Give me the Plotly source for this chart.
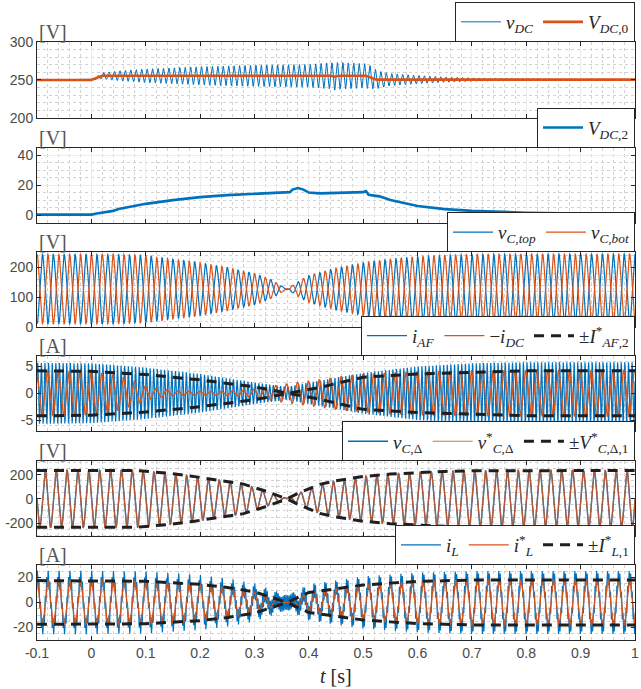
import numpy as np
import plotly.graph_objects as go

# ---------------- data ----------------
T_START, T_END, DT = -0.1, 1.0, 0.0002
F_GRID = 50.0            # fundamental (Hz)
F_VDC_RIPPLE = 100.0     # dc-link ripple (Hz)
F_IAF = 150.0            # active filter current dominant component (Hz)
F_IL_RIPPLE = 350.0      # inductor current ripple (Hz)

# Panel 1: DC voltage
vdc0_t = [-0.1, 0.0, 0.02, 0.44, 0.447, 0.455, 0.505, 0.525, 1.0]
vdc0_v = [250, 250, 255.5, 255.5, 254.3, 255.5, 255.5, 250.5, 250.5]
vdc_rip_t = [-0.1, 0.0, 0.02, 0.05, 0.1, 0.2, 0.3, 0.4, 0.45, 0.5, 0.51, 0.53, 0.55, 0.6, 0.65, 0.7, 0.8, 0.9, 1.0]
vdc_rip_a = [0, 0, 4, 6.5, 9, 12, 14, 15, 18, 16, 16, 11, 8, 5.5, 3.5, 2.5, 1.2, 0.6, 0.4]

# Panel 2: V_DC,2
vdc2_t = [-0.1, 0.0, 0.01, 0.02, 0.03, 0.04, 0.05, 0.07, 0.1, 0.15, 0.2, 0.25, 0.3, 0.35, 0.365,
          0.37, 0.38, 0.39, 0.40, 0.42, 0.45, 0.5, 0.505, 0.51, 0.52, 0.53, 0.55, 0.6, 0.65, 0.7,
          0.8, 0.9, 1.0]
vdc2_v = [0.3, 0.3, 1.0, 1.5, 2.5, 2.8, 4.0, 5.5, 7.5, 10.0, 12.0, 13.3, 14.2, 15.0, 15.3,
          17.0, 18.0, 17.0, 15.0, 14.5, 14.8, 15.3, 16.0, 13.5, 13.0, 12.5, 10.0, 6.0, 4.0, 2.8,
          1.6, 0.8, 0.5]

# Panel 3: capacitor voltages (signed amplitude around the mid value)
VC_MID = 127.0
vc_t = [-0.1, 0.05, 0.1, 0.15, 0.2, 0.25, 0.3, 0.33, 0.36, 0.38, 0.4, 0.45, 0.5, 0.55, 0.6, 0.65, 0.7, 0.8, 1.0]
vc_a = [116, 116, 112, 100, 88, 72, 52, 32, 0, -25, -45, -70, -88, -100, -108, -113, -116, -117, -117]

# Panel 4: currents
iaf_t = [-0.1, 0.0, 0.1, 0.2, 0.3, 0.36, 0.4, 0.5, 0.6, 0.7, 0.8, 1.0]
iaf_a = [5.7, 5.6, 4.8, 3.6, 2.0, 1.2, 2.0, 3.8, 5.0, 5.6, 5.8, 5.8]
idc_t = [-0.1, 0.0, 0.05, 0.08, 0.1, 0.15, 0.2, 0.25, 0.3, 0.33, 0.36, 0.4, 0.45, 0.5, 0.55, 0.6, 0.7, 1.0]
idc_a = [4.2, 4.0, 3.2, 2.2, 1.2, 0.5, 0.4, 0.4, 0.8, 1.3, 1.8, 2.3, 3.0, 3.5, 3.8, 4.0, 4.2, 4.3]
iaf2_ref_t = [-0.1, 0.0, 0.1, 0.2, 0.3, 0.36, 0.4, 0.42, 0.5, 0.6, 0.7, 0.8, 1.0]
iaf2_ref_a = [4.2, 4.1, 3.5, 2.5, 1.2, 0.0, -0.8, -1.1, -3.0, -3.6, -3.9, -4.2, -4.2]

# Panel 5: capacitor voltage difference
vcd_t = [-0.1, 0.08, 0.11, 0.15, 0.19, 0.24, 0.28, 0.32, 0.36, 0.38, 0.4, 0.42, 0.45, 0.5, 0.55, 0.6, 0.65, 0.7, 0.8, 1.0]
vcd_a = [235, 235, 224, 208, 184, 152, 122, 65, 0, -45, -83, -120, -150, -185, -205, -218, -227, -232, -235, -235]

# Panel 6: inductor current
il_t = [-0.1, 0.0, 0.1, 0.2, 0.25, 0.3, 0.36, 0.4, 0.45, 0.5, 0.55, 0.6, 0.7, 0.8, 1.0]
il_a = [17.5, 17.5, 17.0, 14.5, 12.0, 8.5, 0.0, -8.0, -11.0, -14.0, -15.5, -16.8, -18.0, -18.0, -18.0]
IL_GAIN = 1.12
IL_RIPPLE_A = 6.0

# ticks
x_tick_vals = [-0.1, 0, 0.1, 0.2, 0.3, 0.4, 0.5, 0.6, 0.7, 0.8, 0.9, 1.0]
x_tick_text = ["-0.1", "0", "0.1", "0.2", "0.3", "0.4", "0.5", "0.6", "0.7", "0.8", "0.9", "1"]
y_ticks = [
    ([200, 250, 300], ["200", "250", "300"]),
    ([0, 20, 40], ["0", "20", "40"]),
    ([0, 100, 200], ["0", "100", "200"]),
    ([-5, 0, 5], ["-5", "0", "5"]),
    ([-200, 0, 200], ["-200", "0", "200"]),
    ([-20, 0, 20], ["-20", "0", "20"]),
]
units = ["[V]", "[V]", "[V]", "[A]", "[V]", "[A]"]

# ---------------- signals ----------------
t = np.arange(T_START, T_END + DT / 2, DT)
w = 2 * np.pi * F_GRID
tp = t - T_START

vdc_base = np.interp(t, vdc0_t, vdc0_v)
vdc = vdc_base + np.interp(t, vdc_rip_t, vdc_rip_a) * np.sin(2 * np.pi * F_VDC_RIPPLE * tp)

A_vc = np.interp(t, vc_t, vc_a)
vc_top = VC_MID - A_vc * np.cos(w * tp)
vc_bot = VC_MID + A_vc * np.cos(w * tp)

i_af = np.interp(t, iaf_t, iaf_a) * np.sin(2 * np.pi * F_IAF * tp + 0.4)
m_idc = np.interp(t, idc_t, idc_a) * np.cos(w * tp + 0.3)

A_vcd = np.interp(t, vcd_t, vcd_a)
vcd_ref = -A_vcd * np.sin(w * tp)
vcd = -1.01 * A_vcd * np.sin(w * tp - 0.03)

A_il = np.interp(t, il_t, il_a)
il_ref = A_il * np.cos(w * tp)
il = IL_GAIN * A_il * np.cos(w * tp - 0.1) + IL_RIPPLE_A * np.sin(2 * np.pi * F_IL_RIPPLE * tp)


def pm(tk, ak):
    xs = list(tk) + [None] + list(tk)
    ys = list(ak) + [None] + [-a for a in ak]
    return xs, ys


BLUE = "#0072BD"
ORANGE = "#D95319"
BLACK = "#1f1f1f"
SERIF = "Liberation Serif"
SANS = "Liberation Sans"
DASH = "10px,7px"

fig = go.Figure()


def add(i, x, y, name, color, width, dash="solid", opacity=1.0):
    sfx = "" if i == 1 else str(i)
    fig.add_trace(go.Scatter(
        x=x, y=y, mode="lines", name=name,
        line=dict(color=color, width=width, dash=dash), opacity=opacity,
        xaxis="x" + sfx, yaxis="y" + sfx, legend="legend" + sfx,
        hoverinfo="skip",
    ))


add(1, t, vdc, "<i>v</i><sub><i>DC</i></sub>", BLUE, 1.0)
add(1, vdc0_t, vdc0_v, "<i>V</i><sub><i>DC</i>,0</sub>", ORANGE, 2.6)

add(2, vdc2_t, vdc2_v, "<i>V</i><sub><i>DC</i>,2</sub>", BLUE, 2.6)

add(3, t, vc_top, "<i>v</i><sub><i>C,top</i></sub>", BLUE, 1.2)
add(3, t, vc_bot, "<i>v</i><sub><i>C,bot</i></sub>", ORANGE, 1.2)

add(4, t, i_af, "<i>i</i><sub><i>AF</i></sub>", BLUE, 1.2)
add(4, t, m_idc, "−<i>i</i><sub><i>DC</i></sub>", ORANGE, 1.3)
xs, ys = pm(iaf2_ref_t, iaf2_ref_a)
add(4, xs, ys, "±<i>I</i><sup>*</sup><sub><i>AF</i>,2</sub>", BLACK, 3, DASH)

add(5, t, vcd, "<i>v</i><sub><i>C</i>,Δ</sub>", BLUE, 1.4)
add(5, t, vcd_ref, "<i>v</i><sup>*</sup><sub><i>C</i>,Δ</sub>", ORANGE, 1.2, opacity=0.85)
xs, ys = pm(vcd_t, vcd_a)
add(5, xs, ys, "±<i>V</i><sup>*</sup><sub><i>C</i>,Δ,1</sub>", BLACK, 3, DASH)

add(6, t, il, "<i>i</i><sub><i>L</i></sub>", BLUE, 1.2)
add(6, t, il_ref, "<i>i</i><sup>*</sup><sub><i>L</i></sub>", ORANGE, 1.2)
xs, ys = pm(il_t, il_a)
add(6, xs, ys, "±<i>I</i><sup>*</sup><sub><i>L</i>,1</sub>", BLACK, 3, DASH)

# ---------------- layout ----------------
W, H = 641, 689
ML, MR, MT, MB = 37, 2, 34, 49
PH = H - MT - MB
panel_px = [(34, 111), (141, 217), (247, 323), (352, 428), (459, 535), (564, 640)]
y_ranges = [[200, 300], [-5, 45], [0, 250], [-7, 7], [-310, 310], [-30, 30]]
y_minor = [10, 5, 20, 1, 50, 5]


def py(p):
    return (H - MB - p) / PH


layout = dict(
    width=W, height=H,
    margin=dict(l=ML, r=MR, t=MT, b=MB),
    paper_bgcolor="white", plot_bgcolor="white",
    showlegend=True,
)
annotations = []
AX = "#262626"
GRID = "#ececec"
MGRID = "#d2d2d2"
for i in range(1, 7):
    sfx = "" if i == 1 else str(i)
    top, bot = panel_px[i - 1]
    d0, d1 = py(bot), py(top)
    xa = dict(
        domain=[0, 1], range=[-0.1, 1.0], anchor="y" + sfx,
        tickvals=x_tick_vals, ticktext=x_tick_text, showticklabels=(i == 6),
        ticklabeloverflow="allow",
        ticks="inside", ticklen=4, tickcolor=AX,
        showline=True, linecolor=AX, linewidth=1, mirror="ticks",
        showgrid=True, gridcolor=GRID, gridwidth=1, zeroline=False,
        minor=dict(dtick=0.02, tick0=0, showgrid=True, gridcolor=MGRID, griddash="dot", ticks=""),
        tickfont=dict(family=SANS, size=14, color="#4a4a4a"),
    )
    if i != 1:
        xa["matches"] = "x"
    yv, yt = y_ticks[i - 1]
    ya = dict(
        domain=[d0, d1], range=y_ranges[i - 1], anchor="x" + sfx,
        tickvals=yv, ticktext=yt,
        ticks="inside", ticklen=4, tickcolor=AX,
        showline=True, linecolor=AX, linewidth=1, mirror="ticks",
        showgrid=True, gridcolor=GRID, gridwidth=1, zeroline=False,
        minor=dict(dtick=y_minor[i - 1], tick0=0, showgrid=True, gridcolor=MGRID, griddash="dot", ticks=""),
        tickfont=dict(family=SANS, size=14, color="#4a4a4a"),
    )
    layout["xaxis" + sfx] = xa
    layout["yaxis" + sfx] = ya
    layout["legend" + sfx] = dict(
        x=1, xanchor="right", y=d1, yanchor="bottom",
        orientation="h", bgcolor="white", bordercolor=AX, borderwidth=1,
        font=dict(family=SERIF, size=19, color="#262626"),
        itemwidth=40, tracegroupgap=0, itemclick=False,
    )
    annotations.append(dict(
        text=units[i - 1], x=0, y=d1, xref="paper", yref="paper",
        xanchor="left", yanchor="bottom", showarrow=False, yshift=-3,
        font=dict(family=SERIF, size=20, color="#555555"),
    ))

annotations.append(dict(
    text="<i>t</i> [s]", x=0.5, y=py(676), xref="paper", yref="paper",
    xanchor="center", yanchor="middle", showarrow=False,
    font=dict(family=SERIF, size=20, color="#262626"),
))
layout["annotations"] = annotations
fig.update_layout(**layout)

fig.write_html("out.html")
